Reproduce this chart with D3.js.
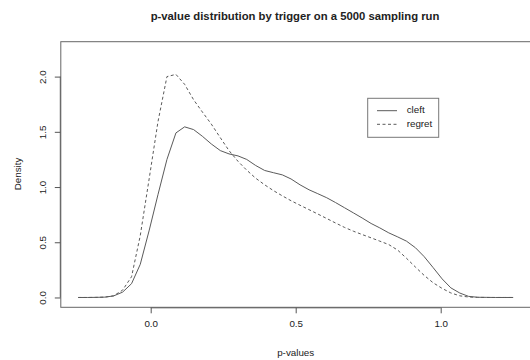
<!DOCTYPE html>
<html lang="en">
    <head>
        <meta charset="utf-8">
        <title>p-value distribution</title>
        <script src="https://d3js.org/d3.v7.min.js"></script>
    </head>
    <style>
        *{
            margin: 0px;
            padding: 0px;
        }
        body{
            background-color: white;
        }
        svg text{
            font-family: 'Liberation Sans', Arial, sans-serif;
            fill: #222;
        }
    </style>
    <body>
        <div id="chart"></div>
        <script>
            // p-value grid (density evaluation points)
            var pValues=[-0.25,-0.219,-0.189,-0.158,-0.128,-0.097,-0.066,-0.036,-0.005,0.025,
                0.056,0.087,0.117,0.148,0.178,0.209,0.240,0.270,0.301,0.331,
                0.362,0.393,0.423,0.454,0.484,0.515,0.546,0.576,0.607,0.637,
                0.668,0.699,0.729,0.760,0.790,0.821,0.852,0.882,0.913,0.943,
                0.974,1.005,1.035,1.066,1.096,1.127,1.158,1.188,1.219,1.25];
            // density for trigger "cleft"
            var cleftDensity=[0,0,0.001,0.003,0.014,0.048,0.125,0.30,0.61,0.93,
                1.25,1.49,1.545,1.52,1.46,1.39,1.33,1.30,1.282,1.25,
                1.195,1.15,1.13,1.11,1.073,1.02,0.975,0.94,0.903,0.86,
                0.813,0.766,0.72,0.67,0.63,0.585,0.548,0.51,0.45,0.37,
                0.27,0.168,0.087,0.04,0.01,0.002,0.001,0,0,0];
            // density for trigger "regret"
            var regretDensity=[0,0,0.001,0.003,0.015,0.066,0.188,0.56,1.08,1.59,
                2.0,2.02,1.93,1.79,1.68,1.57,1.447,1.33,1.233,1.153,
                1.08,1.02,0.968,0.92,0.876,0.835,0.795,0.756,0.715,0.675,
                0.635,0.60,0.57,0.54,0.51,0.479,0.428,0.355,0.275,0.20,
                0.133,0.082,0.041,0.015,0.004,0.001,0,0,0,0];
            var seriesNames=['cleft','regret'];
            var xTicks=[0,0.5,1];
            var yTicks=[0,0.5,1,1.5,2];

            var width=530;
            var height=360;
            var plot={left:60.8,right:530.6,top:41.7,bottom:307.3};
            var lineColor='#5a5a5a';

            var svg=d3
            .select('#chart')
            .append('svg')
            .attr('width',width)
            .attr('height',height);

            //escalas
            var xScale=d3
            .scaleLinear()
            .domain([-0.31,1.31])
            .range([plot.left,plot.right]);

            var yScale=d3
            .scaleLinear()
            .domain([-0.089,2.316])
            .range([plot.bottom,plot.top]);

            /*-------------------------EJE X--------------*/
            var xAxis=d3.axisBottom(xScale)
            .tickValues(xTicks)
            .tickSize(6)
            .tickPadding(7)
            .tickFormat(d3.format('.1f'));

            var gx=svg
            .append('g')
            .attr('transform','translate(0,'+plot.bottom+')')
            .call(xAxis);
            gx.select('.domain')
            .attr('d','M'+xScale(0)+',0.5H'+xScale(1));

            /*-------------------------EJE Y--------------*/
            var yAxis=d3.axisLeft(yScale)
            .tickValues(yTicks)
            .tickSize(6)
            .tickFormat(d3.format('.1f'));

            var gy=svg
            .append('g')
            .attr('transform','translate('+plot.left+',0)')
            .call(yAxis);
            gy.select('.domain')
            .attr('d','M-0.5,'+yScale(0)+'V'+yScale(2));
            gy.selectAll('.tick text')
            .attr('x',0)
            .attr('dy',0)
            .attr('text-anchor','middle')
            .attr('transform','translate(-15,0) rotate(-90)');

            svg.selectAll('.tick line, .domain')
            .attr('stroke','#555');
            svg.selectAll('.tick text')
            .style('font-size','9.8px')
            .attr('fill','#222');

            //caja
            svg
            .append('rect')
            .attr('x',plot.left)
            .attr('y',plot.top)
            .attr('width',plot.right-plot.left)
            .attr('height',plot.bottom-plot.top)
            .attr('fill','none')
            .attr('stroke','#666')
            .attr('stroke-width',1);

            /*-------------------LINEAS--------------*/
            var line=d3.line()
            .x((d)=>xScale(d[0]))
            .y((d)=>yScale(d[1]));

            var cleftPts=pValues.map((p,i)=>[p,cleftDensity[i]]);
            var regretPts=pValues.map((p,i)=>[p,regretDensity[i]]);

            svg
            .append('path')
            .datum(cleftPts)
            .attr('d',line)
            .attr('fill','none')
            .attr('stroke',lineColor)
            .attr('stroke-width',1);

            svg
            .append('path')
            .datum(regretPts)
            .attr('d',line)
            .attr('fill','none')
            .attr('stroke',lineColor)
            .attr('stroke-width',1)
            .attr('stroke-dasharray','3,2.5');

            /*-------------------TEXTOS--------------*/
            svg
            .append('text')
            .attr('x',295)
            .attr('y',17)
            .attr('text-anchor','middle')
            .attr('dominant-baseline','middle')
            .style('font-size','11.3px')
            .style('font-weight','bold')
            .text('p-value distribution by trigger on a 5000 sampling run');

            svg
            .append('text')
            .attr('x',295.7)
            .attr('y',353)
            .attr('text-anchor','middle')
            .attr('dominant-baseline','middle')
            .style('font-size','9.8px')
            .text('p-values');

            svg
            .append('text')
            .attr('transform','translate(18,174) rotate(-90)')
            .attr('text-anchor','middle')
            .attr('dominant-baseline','middle')
            .style('font-size','9.8px')
            .text('Density');

            /*-------------------LEYENDA--------------*/
            var legend=svg
            .append('g')
            .attr('transform','translate(367.7,98.3)');

            legend
            .append('rect')
            .attr('width',71)
            .attr('height',39)
            .attr('fill','white')
            .attr('stroke','#777');

            var items=legend
            .selectAll('.item')
            .data(seriesNames)
            .enter()
            .append('g')
            .attr('class','item')
            .attr('transform',(d,i)=>'translate(0,'+(12.4+i*13.6)+')');

            items
            .append('line')
            .attr('x1',9.3)
            .attr('x2',29.3)
            .attr('stroke',lineColor)
            .attr('stroke-dasharray',(d,i)=>i==1?'3,2.5':null);

            items
            .append('text')
            .attr('x',39)
            .attr('dominant-baseline','middle')
            .style('font-size','9.8px')
            .text((d)=>d);
        </script>
    </body>
</html>
